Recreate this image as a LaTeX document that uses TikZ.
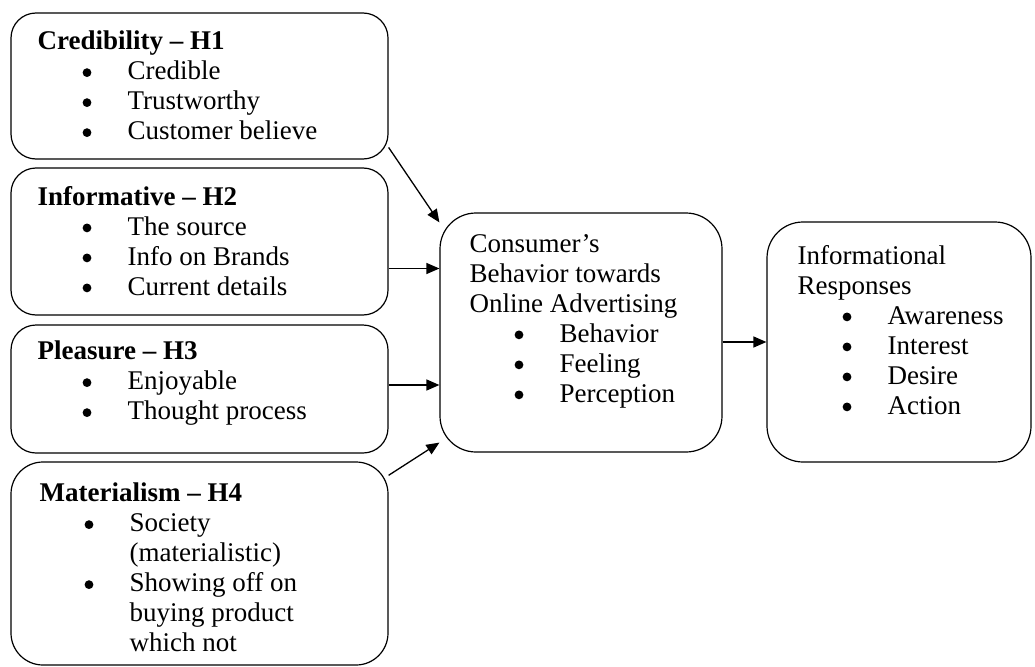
\documentclass[tikz,border=0pt]{standalone}
\usepackage{fontspec}
\setmainfont{Liberation Serif}
\usetikzlibrary{arrows.meta, positioning}

% bullet line and its wrapped continuation
\newcommand{\bdot}{\raisebox{2.8pt}{\tikz\fill (0,0) circle (4.4pt);}}
\newcommand{\bitem}[1]{\hspace*{45pt}\makebox[45pt][l]{\bdot}#1}
\newcommand{\bcont}[1]{\hspace*{90pt}#1}

\begin{document}
\begin{tikzpicture}[x=1pt, y=-1pt,
    box/.style={draw, line width=1.2pt, inner sep=0pt},
    txt/.style={align=flush left, text width=#1, inner sep=0pt,
                font=\fontsize{27}{30}\selectfont},
    arr/.style={-{Triangle[length=13pt, width=11pt]}, line width=1.3pt}]
    \useasboundingbox (0,0) rectangle (1035,666);

    % antecedent boxes
    \node[box, rounded corners=25pt, minimum width=377pt, minimum height=146pt] (cred) at (199.5,86) {};
    \node[box, rounded corners=25pt, minimum width=377pt, minimum height=147pt] (info) at (199.5,241.5) {};
    \node[box, rounded corners=25pt, minimum width=377pt, minimum height=128pt] (plea) at (199.5,389) {};
    \node[box, rounded corners=32pt, minimum width=377pt, minimum height=203pt] (mat) at (199.5,563.5) {};

    % mediator and outcome
    \node[box, rounded corners=36pt, minimum width=282pt, minimum height=239pt] (cb) at (581,332.5) {};
    \node[box, rounded corners=36pt, minimum width=264pt, minimum height=240pt] (resp) at (899,342) {};

    \node[txt=340pt, below right=18.5pt and 27pt of cred.north west] (credtxt)
        {\textbf{Credibility -- H1}\\ \bitem{Credible}\\ \bitem{Trustworthy}\\ \bitem{Customer believe}};
    \node[txt=340pt, below right=18.5pt and 27pt of info.north west] (infotxt)
        {\textbf{Informative -- H2}\\ \bitem{The source}\\ \bitem{Info on Brands}\\ \bitem{Current details}};
    \node[txt=340pt, below right=16.5pt and 27pt of plea.north west] (pleatxt)
        {\textbf{Pleasure -- H3}\\ \bitem{Enjoyable}\\ \bitem{Thought process}};
    \node[txt=340pt, below right=21.5pt and 29pt of mat.north west] (mattxt)
        {\textbf{Materialism -- H4}\\ \bitem{Society}\\ \bcont{(materialistic)}\\
         \bitem{Showing off on}\\ \bcont{buying product}\\ \bcont{which not}};
    \node[txt=250pt, below right=21.5pt and 30pt of cb.north west] (cbtxt)
        {Consumer's\\ Behavior towards\\ Online Advertising\\
         \bitem{Behavior}\\ \bitem{Feeling}\\ \bitem{Perception}};
    \node[txt=230pt, below right=23.5pt and 31pt of resp.north west] (resptxt)
        {Informational\\ Responses\\ \bitem{Awareness}\\ \bitem{Interest}\\ \bitem{Desire}\\ \bitem{Action}};

    % links
    \draw[arr] (cred.-18.5) -- ([yshift=-10pt]cb.north west);
    \draw[arr] ([yshift=-27pt]info.east) -- ([yshift=-27pt]info.east -| cb.west);
    \draw[arr] ([yshift=4pt]plea.east) -- ([yshift=4pt]plea.east -| cb.west);
    \draw[arr] (mat.25) -- ([yshift=10pt]cb.south west);
    \draw[arr] (cb.east |- resp.west) -- (resp.west);
\end{tikzpicture}
\end{document}
